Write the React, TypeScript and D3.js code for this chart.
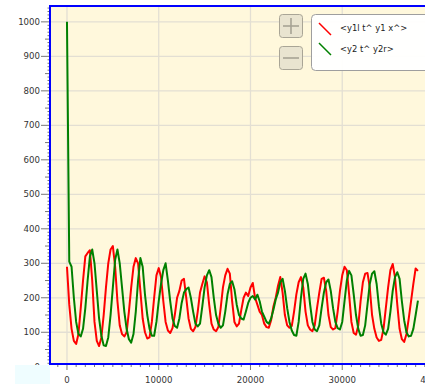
import React from "react";
import * as d3 from "d3";

const STEP = 250;
const redValues = [
  290, 180, 110, 75, 66, 95, 170, 250, 320, 330, 338, 250, 130, 75, 60, 85, 150, 230, 300, 340,
  350, 290, 190, 120, 95, 88, 100, 160, 230, 290, 315, 300, 220, 140, 100, 82, 85, 130, 200, 265,
  286, 260, 190, 130, 105, 98, 112, 150, 200, 220, 250, 255, 200, 140, 110, 103, 115, 160, 215, 240,
  262, 245, 180, 125, 108, 103, 115, 170, 230, 265, 284, 270, 190, 130, 117, 125, 165, 200, 215, 205,
  230, 243, 200, 180, 160, 150, 125, 115, 113, 135, 175, 200, 235, 260, 215, 150, 120, 113, 118, 160,
  210, 245, 260, 230, 160, 120, 108, 103, 120, 170, 215, 255, 258, 220, 150, 115, 108, 112, 160, 220,
  265, 290, 280, 210, 130, 98, 93, 120, 190, 245, 270, 272, 230, 150, 110, 85, 75, 78, 110, 170,
  230, 280, 298, 260, 180, 110, 80, 72, 95, 140, 190, 240, 285, 278,
];
const greenValues = [
  1000, 305, 290, 200, 130, 95, 88, 110, 170, 250, 320, 340, 300, 220, 140, 90, 62, 60, 85, 150,
  230, 310, 340, 300, 230, 160, 110, 80, 70, 95, 160, 250, 315, 290, 210, 150, 110, 90, 90, 130,
  190, 240, 280, 300, 250, 190, 140, 118, 113, 140, 185, 215, 225, 230, 200, 160, 125, 117, 125, 175,
  230, 265, 280, 260, 200, 150, 125, 113, 120, 160, 210, 240, 248, 225, 180, 150, 140, 137, 160, 185,
  200, 205, 195, 209, 190, 160, 145, 130, 125, 140, 165, 195, 215, 245, 255, 220, 170, 130, 105, 92,
  90, 130, 200, 255, 270, 240, 180, 130, 108, 103, 120, 170, 215, 245, 253, 220, 170, 130, 112, 108,
  130, 190, 250, 278, 265, 210, 150, 110, 90, 92, 120, 180, 240, 270, 277, 240, 175, 125, 100, 93,
  110, 160, 220, 260, 274, 255, 190, 135, 100, 88, 90, 110, 150, 192,
];
const xTickValues = [0, 10000, 20000, 30000, 40000];
const xTickLabels = ["0", "10000", "20000", "30000", "40000"];
const yTickValues = [0, 100, 200, 300, 400, 500, 600, 700, 800, 900, 1000];
const seriesNames = ["<y1l t^ y1 x^>", "<y2 t^ y2r>"];
const seriesColors = ["#ff0000", "#008000"];

const W = 425;
const H = 384;
const L = 50;
const T = 6;
const B = 364;

export default function App() {
  const x = d3.scaleLinear().domain([-1850, 39020]).range([L, W]);
  const y = d3.scaleLinear().domain([8, 1046]).range([B, T]);
  const line = d3
    .line<number>()
    .x((_, i) => x(i * STEP))
    .y((d) => y(d));

  const minorY = d3.range(10, 1041, 10);
  const minorX = d3.range(-1000, 39001, 1000);
  const font = "'DejaVu Sans', Verdana, sans-serif";

  return (
    <svg
      width={W}
      height={H}
      style={{ position: "absolute", left: 0, top: 0, background: "#fff" }}
    >
      <defs>
        <clipPath id="plot">
          <rect x={L} y={T} width={W - L} height={B - T} />
        </clipPath>
      </defs>
      <rect x={L} y={T} width={W - L} height={B - T} fill="#fff8dc" />
      {yTickValues.filter((v) => v > 0).map((v) => (
        <line key={"gy" + v} x1={L} x2={W} y1={y(v)} y2={y(v)} stroke="#e3dfd3" strokeWidth={1.3} />
      ))}
      {xTickValues.map((v) => (
        <line key={"gx" + v} x1={x(v)} x2={x(v)} y1={T} y2={B} stroke="#e3dfd3" strokeWidth={1.3} />
      ))}
      <g clipPath="url(#plot)">
        <path d={line(redValues) || ""} fill="none" stroke={seriesColors[0]} strokeWidth={2} strokeLinejoin="round" />
        <path d={line(greenValues) || ""} fill="none" stroke={seriesColors[1]} strokeWidth={2} strokeLinejoin="round" />
      </g>
      {minorY.map((v) => {
        const len = v % 100 === 0 ? 9 : v % 50 === 0 ? 5 : 2.5;
        return <line key={"ty" + v} x1={L - len} x2={L} y1={y(v)} y2={y(v)} stroke="#555" strokeWidth={0.8} />;
      })}
      {yTickValues.map((v) => (
        <text key={"ly" + v} x={40} y={y(v)} dy="0.35em" textAnchor="end" fontFamily={font} fontSize={8.6} fill="#333">
          {v}
        </text>
      ))}
      {minorX.map((v) => {
        const len = v % 10000 === 0 ? 6 : 3;
        return <line key={"tx" + v} x1={x(v)} x2={x(v)} y1={B} y2={B + len} stroke="#555" strokeWidth={0.8} />;
      })}
      {xTickValues.map((v, i) => (
        <text key={"lx" + v} x={x(v)} y={383} textAnchor="middle" fontFamily={font} fontSize={8.6} fill="#333">
          {xTickLabels[i]}
        </text>
      ))}
      <rect x={15} y={365} width={35} height={19} fill="#effdff" />
      <line x1={L} x2={L} y1={T - 1} y2={B + 1} stroke="#0000ff" strokeWidth={2} />
      <line x1={L - 1} x2={W} y1={T} y2={T} stroke="#0000ff" strokeWidth={2} />
      <line x1={L - 1} x2={W} y1={B} y2={B} stroke="#0000ff" strokeWidth={2} />
      <rect x={279.5} y={14.5} width={23} height={23} rx={3} fill="#e9e4d0" stroke="#a9a596" />
      <line x1={283} x2={299} y1={26} y2={26} stroke="#a6a293" strokeWidth={1.6} />
      <line x1={291} x2={291} y1={18} y2={34} stroke="#a6a293" strokeWidth={1.6} />
      <rect x={279.5} y={46.5} width={23} height={23} rx={3} fill="#e9e4d0" stroke="#a9a596" />
      <line x1={283} x2={299} y1={58} y2={58} stroke="#a6a293" strokeWidth={1.6} />
      <rect x={311.5} y={14.5} width={130} height={56} rx={4} fill="#ffffff" fillOpacity={0.95} stroke="#9e9e9e" />
      {seriesNames.map((n, i) => (
        <g key={n}>
          <line x1={319} y1={23 + i * 20} x2={331} y2={35 + i * 20} stroke={seriesColors[i]} strokeWidth={1.5} />
          <text x={340} y={28 + i * 21} dy="0.35em" fontFamily={font} fontSize={8.4} fill="#222">
            {n}
          </text>
        </g>
      ))}
    </svg>
  );
}
